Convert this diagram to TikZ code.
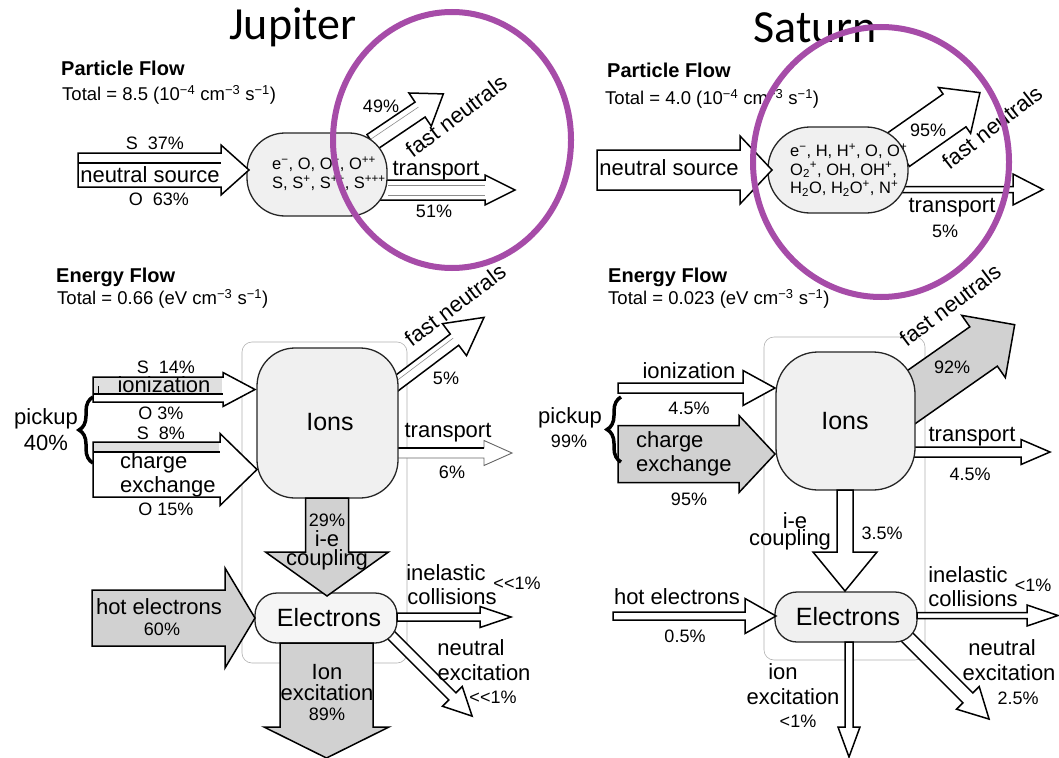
\documentclass[tikz,border=0pt]{standalone}
\usepackage{fontspec}
\setmainfont{Liberation Sans}
\newfontfamily\titlefont{Carlito}
\usetikzlibrary{decorations.pathreplacing}
\definecolor{circ}{RGB}{166,76,168}
\definecolor{boxfill}{gray}{0.94}
\definecolor{arrfill}{gray}{0.82}
\newcommand\fatarrow[7]{\draw[arrowline,#7,shift={#1},rotate=#2] (0,-#4) -- (#3,-#4) -- (#3,-#5) -- (#3+#6,0) -- (#3,#5) -- (#3,#4) -- (0,#4) -- cycle;}
\newcommand\shaftline[5]{\draw[#5,shift={#1},rotate=#2] (0,#4) -- (#3,#4);}
\tikzset{
 arrowline/.style={draw=black, line width=1.5pt, line join=miter, fill=white},
 grayarrow/.style={fill=arrfill},
 thinarrow/.style={line width=0.9pt, draw=black!60},
 innerln/.style={draw=black!45, line width=0.6pt},
 boxstyle/.style={draw=black!85, line width=1.3pt, fill=boxfill, inner sep=0pt},
 panelframe/.style={draw=black!30, line width=0.6pt, rounded corners=10pt},
 lbl/.style={font=\fontsize{22}{24}\selectfont, inner sep=0pt},
 pct/.style={font=\fontsize{18}{20}\selectfont, inner sep=0pt},
 hdr/.style={font=\fontsize{20}{22}\selectfont\bfseries, anchor=west, inner sep=0pt},
 tot/.style={font=\fontsize{18.5}{20}\selectfont, anchor=west, inner sep=0pt},
 ttl/.style={font=\titlefont\fontsize{46}{50}\selectfont, inner sep=0pt},
 ring/.style={draw=circ, line width=6pt},
 brc/.style={decorate, decoration={brace, amplitude=14pt}, line width=3.5pt}
}
\begin{document}
\begin{tikzpicture}[x=1pt,y=-1pt]
\useasboundingbox (0,0) rectangle (1059,757);
\fill[white] (0,0) rectangle (1059,757);

% ---------------- titles and headers
\node[ttl] (jtitle) at (293,27) {Jupiter};
\node[ttl] (stitle) at (815,28) {Saturn};
\node[hdr] (jpf) at (61,68) {Particle Flow};
\node[tot] (jpt) at (62,95) {Total = 8.5 (10\textsuperscript{−4} cm\textsuperscript{−3} s\textsuperscript{−1})};
\node[hdr] (spf) at (607,70) {Particle Flow};
\node[tot] (spt) at (605,99) {Total = 4.0 (10\textsuperscript{−4} cm\textsuperscript{−3} s\textsuperscript{−1})};
\node[hdr] (jef) at (56,277) {Energy Flow};
\node[tot] (jet) at (57,299) {Total = 0.66 (eV cm\textsuperscript{−3} s\textsuperscript{−1})};
\node[hdr] (sef) at (608,277) {Energy Flow};
\node[tot] (set) at (608,299) {Total = 0.023 (eV cm\textsuperscript{−3} s\textsuperscript{−1})};

% ---------------- frames
\draw[panelframe] (242,342) rectangle (407,663);
\draw[panelframe] (764,337) rectangle (925,660);

% ================= JUPITER PARTICLE
\fatarrow{(372,142)}{34}{58}{9}{20}{28}{}
\shaftline{(372,142)}{34}{58}{-3}{innerln}
\fatarrow{(380,190)}{0}{105}{10}{15}{30}{}
\draw[innerln] (388,185) -- (485,185);
\draw[innerln] (388,195) -- (485,195);
\node[boxstyle, rounded corners=38pt, minimum width=140pt, minimum height=83pt] (jpbox) at (317,174.5) {};
\node[font=\fontsize{16.5}{19}\selectfont, align=left, anchor=west, inner sep=0pt] (jptxt) at (272,173.5)
 {e\textsuperscript{−}, O, O\textsuperscript{+}, O\textsuperscript{++}\\S, S\textsuperscript{+}, S\textsuperscript{++}, S\textsuperscript{+++}};
\fatarrow{(78,170)}{0}{143}{17}{25}{28}{}
\draw[line width=1.5pt] (78,163) -- (221,163);
\node[pct] (js37) at (155,143) {S\ \ 37\%};
\node[lbl] (jns) at (150,175) {neutral source};
\node[pct] (jo63) at (159,199) {O\ \ 63\%};
\node[pct] (j49) at (381,106) {49\%};
\node[lbl, rotate=37] (jfn1) at (456,116) {fast neutrals};
\node[lbl] (jtr1) at (436,171) {transport};
\node[pct] (j51) at (434,211) {51\%};

% ================= SATURN PARTICLE
\fatarrow{(898,150)}{35}{69}{20}{28}{31}{}
\fatarrow{(900,189.5)}{0}{113}{3}{15.5}{30}{}
\node[boxstyle, rounded corners=42pt, minimum width=140pt, minimum height=86pt] (spbox) at (838,170) {};
\node[font=\fontsize{16.5}{18.5}\selectfont, align=left, anchor=west, inner sep=0pt] (sptxt) at (790,170)
 {e\textsuperscript{−}, H, H\textsuperscript{+}, O, O\textsuperscript{+}\\
  O\textsubscript{2}\textsuperscript{+}, OH, OH\textsuperscript{+},\\
  H\textsubscript{2}O, H\textsubscript{2}O\textsuperscript{+}, N\textsuperscript{+}};
\fatarrow{(597,170)}{0}{143}{20}{34}{32}{}
\node[lbl] (sns) at (669,168) {neutral source};
\node[pct] (s95a) at (928,130) {95\%};
\node[lbl, rotate=38] (sfn1) at (992,127) {fast neutrals};
\node[lbl] (str1) at (952,208) {transport};
\node[pct] (s5) at (945,231) {5\%};

% ================= JUPITER ENERGY
\fatarrow{(393,386)}{37}{77}{7}{20}{37}{}
\shaftline{(393,386)}{37}{77}{-2}{innerln}
\fatarrow{(390,453)}{0}{94}{5}{12.5}{28}{thinarrow}
\draw[line width=1.2pt] (398,448) -- (484,448);
\fatarrow{(388,632)}{-45}{91}{5}{14}{28}{}
\node[boxstyle, rounded corners=38pt, minimum width=141pt, minimum height=150pt] (jions) at (327.5,423) {};
\node[boxstyle, rounded corners=22pt, minimum width=142pt, minimum height=50pt, fill=black!4] (jel) at (326,618) {};
\node[font=\fontsize{25}{27}\selectfont, inner sep=0pt] (jionst) at (330,422) {Ions};
\node[font=\fontsize{25}{27}\selectfont, inner sep=0pt] (jelt) at (329,618) {Electrons};
% incoming
\fatarrow{(93,389.5)}{0}{130}{12.5}{17}{32}{}
\fill[arrfill!70] (94,378) rectangle (222,394);
\draw[line width=1.5pt] (93,394) -- (223,394);
\draw[line width=0.6pt] (98,386) -- (98,394);
\fatarrow{(93,469.5)}{0}{127}{27.5}{36}{37}{}
\fill[arrfill!70] (94,443) rectangle (219,452);
\draw[line width=1.5pt] (93,452) -- (220,452);
\fatarrow{(327,498)}{-90}{54}{21.5}{61.5}{44}{grayarrow}
\fatarrow{(92,618)}{0}{133}{28}{50}{30}{grayarrow}
\fatarrow{(326.5,643)}{-90}{84}{46.5}{62.5}{31}{grayarrow}
\fatarrow{(397,617)}{0}{83}{4}{10.5}{31}{}
\draw[brc] (93,463) -- (93,397);
\node[pct] (js14) at (166,367) {S\ \ 14\%};
\node[lbl] (jion) at (164,385) {ionization};
\node[pct] (jo3) at (161,413) {O\ 3\%};
\node[pct] (js8) at (161,433) {S\ \ 8\%};
\node[lbl, anchor=west] (jch) at (120,463) {charge};
\node[lbl, anchor=west] (jex) at (120,487) {exchange};
\node[pct] (jo15) at (166,509) {O\ 15\%};
\node[lbl] (jpick) at (46,419) {pickup};
\node[lbl] (j40) at (46,443) {40\%};
\node[lbl, rotate=37] (jfn2) at (455,305) {fast neutrals};
\node[pct] (j5) at (446,378) {5\%};
\node[lbl] (jtr2) at (448,433) {transport};
\node[pct] (j6) at (452,472) {6\%};
\node[pct] (j29) at (327,520) {29\%};
\node[lbl] (jie) at (327,539) {i-e};
\node[lbl] (jcoup) at (327,560) {coupling};
\node[lbl] (jhot) at (159,607) {hot electrons};
\node[pct] (j60) at (162,629) {60\%};
\node[lbl] (jinel) at (446,573) {inelastic};
\node[lbl] (jcoll) at (452,597) {collisions};
\node[pct] (jll1) at (517,583) {<{}<1\%};
\node[lbl] (jionx) at (327,672) {Ion};
\node[lbl] (jexc) at (327,693) {excitation};
\node[pct] (j89) at (327,714) {89\%};
\node[lbl] (jneu) at (471,648) {neutral};
\node[lbl] (jnexc) at (484,673) {excitation};
\node[pct] (jll2) at (493,697) {<{}<1\%};

% ================= SATURN ENERGY
\fatarrow{(900,405)}{35}{102}{24}{38}{38}{grayarrow}
\fatarrow{(905,452)}{0}{116}{5}{12.5}{29}{}
\fatarrow{(900,630)}{-45}{96}{7}{16}{30}{}
\node[boxstyle, rounded corners=42pt, minimum width=139pt, minimum height=138pt] (sions) at (845.5,421) {};
\node[boxstyle, rounded corners=22pt, minimum width=142pt, minimum height=50pt] (sel) at (846,617) {};
\node[font=\fontsize{25}{27}\selectfont, inner sep=0pt] (sionst) at (845,421) {Ions};
\node[font=\fontsize{25}{27}\selectfont, inner sep=0pt] (selt) at (848,617) {Electrons};
\fatarrow{(618,388)}{0}{125}{5}{17.5}{32}{}
\fatarrow{(618,454)}{0}{121}{28.5}{38.5}{36}{grayarrow}
\fatarrow{(845,490)}{-90}{62}{8}{32}{39}{}
\fatarrow{(613,616)}{0}{132}{4}{17.5}{31}{}
\fatarrow{(917,615.5)}{0}{110}{3}{10.5}{31}{}
\fatarrow{(849,642)}{-90}{85}{4}{11}{30}{}
\draw[brc] (621,462) -- (621,397);
\node[lbl] (sion) at (689,371) {ionization};
\node[pct] (s45a) at (689,408) {4.5\%};
\node[lbl, anchor=west] (sch) at (636,442) {charge};
\node[lbl, anchor=west] (sex) at (636,466) {exchange};
\node[pct] (s95b) at (689,499) {95\%};
\node[lbl] (spick) at (570,418) {pickup};
\node[pct] (s99) at (569,441) {99\%};
\node[lbl, rotate=37] (sfn2) at (950,305) {fast neutrals};
\node[pct] (s92) at (952,367) {92\%};
\node[lbl] (str2) at (972,437) {transport};
\node[pct] (s45b) at (970,474) {4.5\%};
\node[lbl] (sie) at (795,521) {i-e};
\node[lbl] (scoup) at (790,540) {coupling};
\node[pct] (s35) at (882,533) {3.5\%};
\node[lbl] (shot) at (677,597) {hot electrons};
\node[pct] (s05) at (685,636) {0.5\%};
\node[lbl] (sinel) at (968,575) {inelastic};
\node[lbl] (scoll) at (973,599) {collisions};
\node[pct] (sl1a) at (1033,585) {<1\%};
\node[lbl] (sionx) at (783,672) {ion};
\node[lbl] (sexc) at (793,697) {excitation};
\node[pct] (sl1b) at (798,721) {<1\%};
\node[lbl] (sneu) at (1002,648) {neutral};
\node[lbl] (snexc) at (1009,673) {excitation};
\node[pct] (s25) at (1018,698) {2.5\%};

% ================= highlight rings
\draw[ring] (452,140) ellipse [x radius=119, y radius=128];
\draw[ring] (881,162) ellipse [x radius=128, y radius=135];
\end{tikzpicture}
\end{document}
